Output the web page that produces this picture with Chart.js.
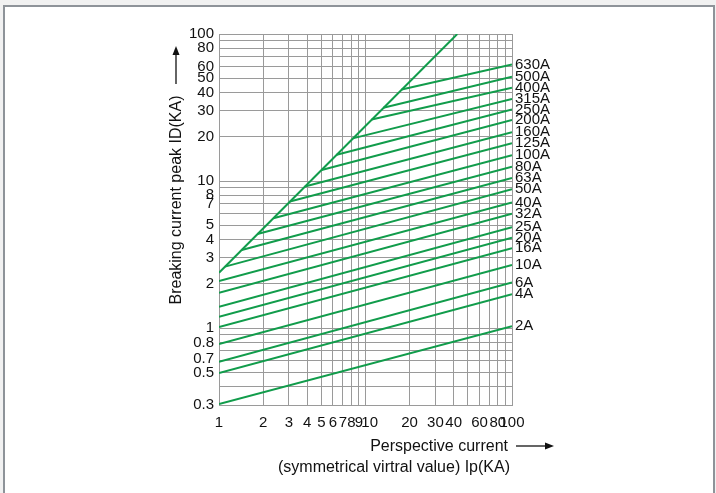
<!DOCTYPE html>
<html lang="en">
<head>
  <meta charset="UTF-8">
  <title>Breaking current peak</title>
  <script src="https://cdn.jsdelivr.net/npm/chart.js@4.4.1/dist/chart.umd.min.js"></script>
  <style>
    html, body { margin: 0; padding: 0; width: 716px; height: 493px; overflow: hidden; background: #f1f1f1; }
    .frame { position: absolute; left: 3px; top: 5px; width: 708px; height: 520px; background: #fff; border: 2px solid #8e9399; }
    #myChart { position: absolute; left: 0; top: 0; }
  </style>
</head>
<body>
  <div class="frame"></div>
  <canvas id="myChart" width="716" height="493"></canvas>
  <script>
    // fuse ratings, each drawn as a straight line (log-log) ending at Ip = 100 kA
    const ratings = ['2A','4A','6A','10A','16A','20A','25A','32A','40A','50A','63A','80A','100A','125A','160A','200A','250A','315A','400A','500A','630A']
    const startX = [1, 1, 1, 1, 1, 1, 1, 1, 1, 1.10, 1.43, 1.83, 2.35, 3.05, 3.86, 5.02, 6.36, 8.18, 11.02, 13.23, 17.66]
    const startY = [0.305, 0.495, 0.591, 0.78, 1.017, 1.195, 1.398, 1.741, 2.09, 2.62, 3.40, 4.36, 5.59, 7.26, 9.19, 11.9, 15.1, 19.5, 26.2, 31.5, 42.0]
    const endX = 100
    const endY = [1.03, 1.70, 2.04, 2.69, 3.49, 4.12, 4.85, 6.0, 7.15, 8.8, 10.5, 12.5, 15.0, 18.1, 21.5, 26.0, 30.7, 36.1, 43.1, 51.2, 62]

    // peak envelope (unlimited current)
    const envelopeX = [1, 42.3]
    const envelopeY = [2.38, 100]

    // axes
    const xGrid = [1,2,3,4,5,6,7,8,9,10,20,30,40,50,60,70,80,90,100]
    const xLabels = [1,2,3,4,5,6,7,8,9,10,20,30,40,60,80,100]
    const yGrid = [0.3,0.4,0.5,0.6,0.7,0.8,0.9,1,2,3,4,5,6,7,8,9,10,20,30,40,50,60,70,80,90,100]
    const yLabels = [0.3,0.5,0.7,0.8,1,2,3,4,5,7,8,10,20,30,40,50,60,80,100]

    const green = '#119c4b'
    const gridColor = '#9a9a9a'
    const textColor = '#111'
    Chart.defaults.font.family = 'Arial, "Liberation Sans", sans-serif'

    const datasets = ratings.map((r, i) => ({
      label: r,
      data: [{ x: startX[i], y: startY[i] }, { x: endX, y: endY[i] }],
      borderColor: green,
      borderWidth: 2,
      pointRadius: 0,
      fill: false,
      tension: 0
    }))
    datasets.push({
      label: 'envelope',
      data: envelopeX.map((x, i) => ({ x, y: envelopeY[i] })),
      borderColor: green,
      borderWidth: 2,
      pointRadius: 0,
      fill: false,
      tension: 0
    })

    function arrow(c, x1, y1, x2, y2) {
      const a = Math.atan2(y2 - y1, x2 - x1)
      c.beginPath()
      c.moveTo(x1, y1)
      c.lineTo(x2 - 7 * Math.cos(a), y2 - 7 * Math.sin(a))
      c.stroke()
      c.beginPath()
      c.moveTo(x2, y2)
      c.lineTo(x2 - 9 * Math.cos(a) + 3.5 * Math.sin(a), y2 - 9 * Math.sin(a) - 3.5 * Math.cos(a))
      c.lineTo(x2 - 9 * Math.cos(a) - 3.5 * Math.sin(a), y2 - 9 * Math.sin(a) + 3.5 * Math.cos(a))
      c.closePath()
      c.fill()
    }

    const annotate = {
      id: 'annotate',
      afterDatasetsDraw(chart) {
        const c = chart.ctx
        const area = chart.chartArea
        c.save()
        c.fillStyle = textColor
        c.strokeStyle = textColor
        c.lineWidth = 1.3

        // rating labels at the right end of each line
        c.font = '15px Arial, "Liberation Sans", sans-serif'
        c.textAlign = 'left'
        c.textBaseline = 'middle'
        ratings.forEach((r, i) => {
          const pt = chart.getDatasetMeta(i).data[1]
          c.fillText(r, area.right + 3, pt.y)
        })

        // y axis title + arrow
        c.font = '16px Arial, "Liberation Sans", sans-serif'
        c.save()
        c.translate(area.left - 42, area.top + 166)
        c.rotate(-Math.PI / 2)
        c.textAlign = 'center'
        c.fillText('Breaking current peak ID(KA)', 0, 0)
        c.restore()
        arrow(c, area.left - 43, area.top + 50, area.left - 43, area.top + 12)

        // x axis title + arrow
        c.textAlign = 'right'
        c.fillText('Perspective current', area.right - 4, area.bottom + 42)
        c.fillText('(symmetrical virtral value) Ip(KA)', area.right - 2, area.bottom + 63)
        arrow(c, area.right + 4, area.bottom + 41, area.right + 42, area.bottom + 41)
        c.restore()
      }
    }

    const ctx = document.getElementById('myChart').getContext('2d')
    new Chart(ctx, {
      type: 'line',
      data: { datasets },
      options: {
        responsive: false,
        animation: false,
        events: [],
        layout: { padding: { left: 0, right: 204, top: 34, bottom: 0 } },
        plugins: {
          legend: { display: false },
          tooltip: { enabled: false }
        },
        scales: {
          x: {
            type: 'logarithmic',
            min: 1,
            max: 100,
            afterBuildTicks: s => { s.ticks = xGrid.map(v => ({ value: v })) },
            afterFit: s => { s.height = 88 },
            grid: { color: gridColor, drawTicks: false },
            border: { color: gridColor },
            ticks: {
              autoSkip: false,
              maxRotation: 0,
              minRotation: 0,
              padding: 9,
              color: textColor,
              font: { size: 15 },
              callback: v => {
                if (!xLabels.includes(v)) return ''
                return v === 10 ? '  10' : String(v) // nudge off the crowded 9
              }
            }
          },
          y: {
            type: 'logarithmic',
            min: 0.3,
            max: 100,
            afterBuildTicks: s => { s.ticks = yGrid.map(v => ({ value: v })) },
            afterFit: s => { s.width = 219 },
            grid: { color: gridColor, drawTicks: false },
            border: { color: gridColor },
            ticks: {
              autoSkip: false,
              padding: 5,
              color: textColor,
              font: { size: 15, lineHeight: 1 },
              callback: v => {
                if (!yLabels.includes(v)) return ''
                return v === 0.7 ? ['', '0.7'] : String(v) // keep 0.7 clear of 0.8
              }
            }
          }
        }
      },
      plugins: [annotate]
    })
  </script>
</body>
</html>
